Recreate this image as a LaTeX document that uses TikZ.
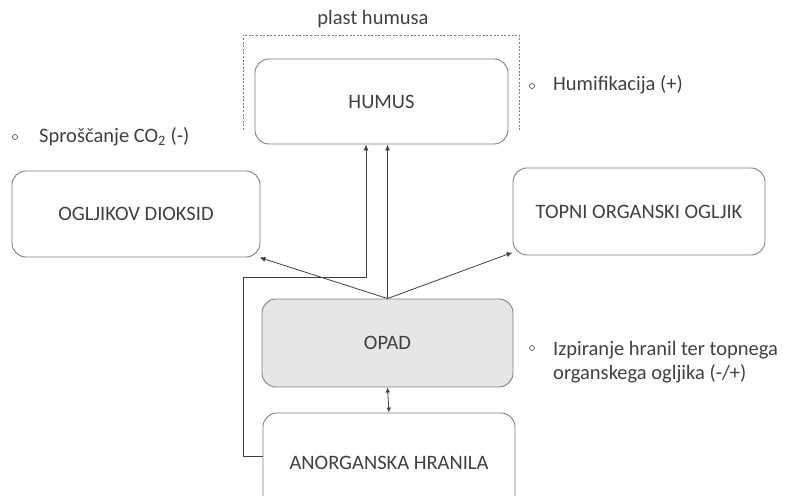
\documentclass[tikz,border=0pt]{standalone}
\usepackage{fontspec}
\setmainfont{Carlito}
\usetikzlibrary{arrows.meta}
\definecolor{txt}{HTML}{404040}
\definecolor{edge}{HTML}{7F7F7F}
\definecolor{opadfill}{HTML}{E6E6E6}
\begin{document}
\begin{tikzpicture}[x=1pt,y=-1pt,
  box/.style={draw=edge, line width=0.9pt, rounded corners=14pt, text=txt,
    font=\fontsize{20.5}{24}\selectfont, inner sep=0pt},
  conn/.style={draw=txt, line width=0.8pt, -{Latex[length=6pt,width=5pt]}},
  dconn/.style={draw=txt, line width=0.8pt, {Latex[length=5pt,width=4.5pt]}-{Latex[length=5pt,width=4.5pt]}},
  lbl/.style={text=txt, font=\fontsize{20.5}{24}\selectfont, anchor=base west, inner sep=0pt},
  bul/.style={circle, draw=txt, minimum size=5pt, inner sep=0pt, line width=0.6pt},
  bracket/.style={draw=edge, line width=0.8pt, dash pattern=on 2pt off 1.6pt}]
\useasboundingbox (0,0) rectangle (792,495);
\clip (0,0) rectangle (792,495);

% boxes
\node[box, minimum width=253pt, minimum height=85pt] (humus) at (381.5,101.5) {HUMUS};
\node[box, minimum width=248pt, minimum height=86pt] (ogl) at (136,214) {OGLJIKOV DIOKSID};
\node[box, minimum width=252pt, minimum height=87pt] (topni) at (639,211.5) {TOPNI ORGANSKI OGLJIK};
\node[box, fill=opadfill, minimum width=251pt, minimum height=88pt] (opad) at (387.5,343) {OPAD};
\node[box, minimum width=252pt, minimum height=100pt] (anorg) at (389,463) {ANORGANSKA HRANILA};

% dashed bracket "plast humusa"
\coordinate (bl) at (243,130);
\coordinate (br) at (519,130);
\draw[bracket] (bl) -- (243,35) -- (519,35) -- (br);
\node[text=txt, font=\fontsize{20.5}{24}\selectfont, inner sep=0pt] (plast) at (373,19) {plast humusa};

% connectors
\draw[conn] (opad.north) -- ([xshift=-1pt]ogl.south east);
\draw[conn] (opad.north) -- ([yshift=3pt]topni.south west);
\draw[conn] (opad.north) -- (opad.north |- humus.south);
\draw[conn] ([yshift=7pt]anorg.west) -| (243,277) -| ([xshift=-15.5pt]humus.south);
\draw[dconn] (opad.south) -- (anorg.north);

% bullet labels
\node[bul] (b1) at (15,137) {};
\node[lbl] (l1) at (39,142) {Sproščanje CO\textsubscript{2} (-)};
\node[bul] (b2) at (532,86) {};
\node[lbl] (l2) at (553,90) {Humifikacija (+)};
\node[bul] (b3) at (532,348) {};
\node[lbl] (l3a) at (553,355) {Izpiranje hranil ter topnega};
\node[lbl] (l3b) at (553,379) {organskega ogljika (-/+)};
\end{tikzpicture}
\end{document}
